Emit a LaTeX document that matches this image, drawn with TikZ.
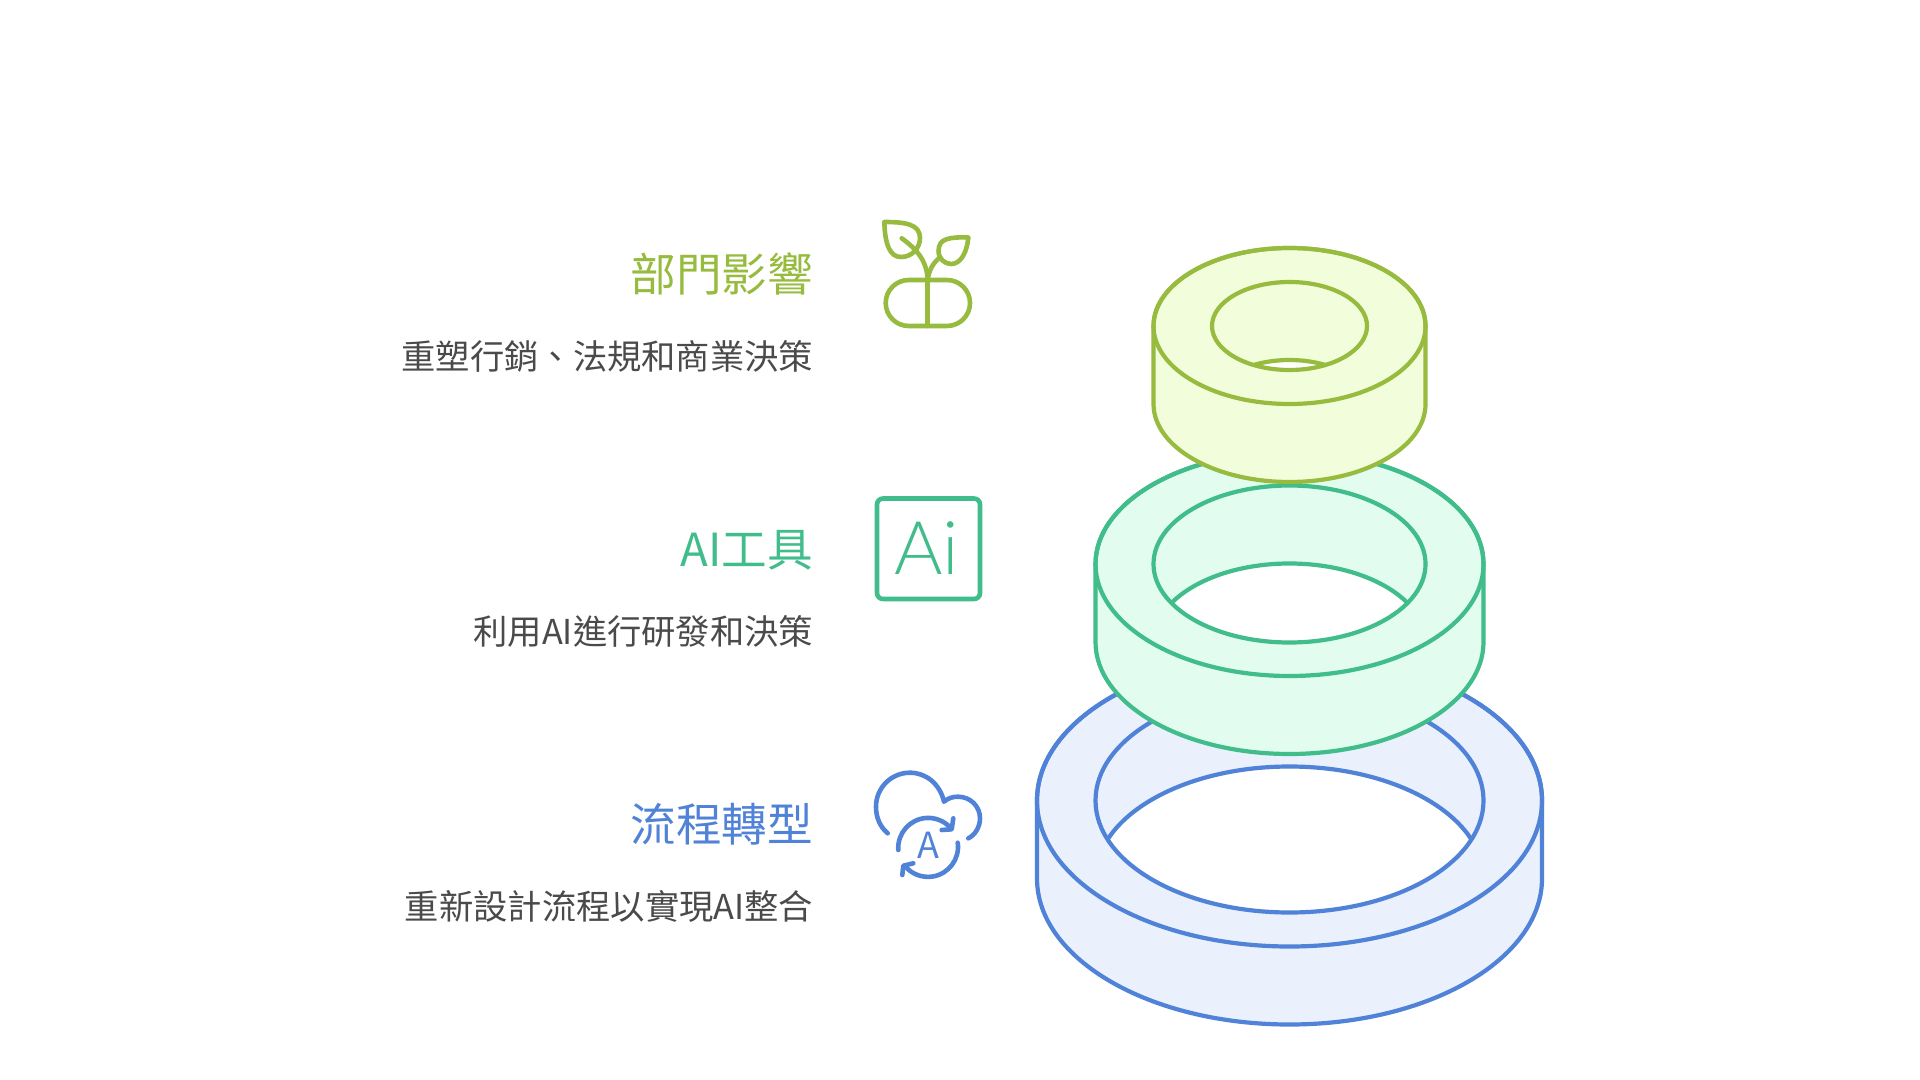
\documentclass[tikz,border=0pt]{standalone}
\usepackage{fontspec}
\setmainfont{Noto Sans CJK TC}
\newfontfamily\thinmark{Lato Light}
\definecolor{limeline}{HTML}{97BB3E}
\definecolor{limefill}{HTML}{F2FEDB}
\definecolor{tealline}{HTML}{41BC8B}
\definecolor{tealfill}{HTML}{E2FDF0}
\definecolor{blueline}{HTML}{5083D8}
\definecolor{bluefill}{HTML}{EAF1FD}
\definecolor{bodygray}{HTML}{4A4A4A}
\tikzset{
  ringline/.style={line width=2.1pt, line join=round},
  iconline/.style={line width=2.3pt, line cap=round, line join=round},
  headlabel/.style={anchor=east, inner sep=0pt, font=\fontsize{22.8}{26}\selectfont},
  bodylabel/.style={anchor=east, inner sep=0pt, text=bodygray, font=\fontsize{17.15}{21}\selectfont},
}

\begin{document}
\begin{tikzpicture}[x=0.5pt, y=-0.5pt]
  \useasboundingbox (0,0) rectangle (1920,1080);

  % rings, bottom one first
  \foreach \cy/\rx/\ry/\hrx/\hry/\lnc/\flc in {
      800.5/252.5/146/194/112/blueline/bluefill,
      564/194/112/136/78.5/tealline/tealfill,
      326/136/78/77.5/44/limeline/limefill} {
    \draw[ringline, draw=\lnc, fill=\flc] (1289.5-\rx, \cy)
      arc[start angle=180, end angle=360, x radius=\rx, y radius=\ry] -- ++(0,78)
      arc[start angle=0, end angle=180, x radius=\rx, y radius=\ry] -- cycle;
    \draw[ringline, draw=\lnc] (1289.5, \cy) ellipse[x radius=\rx, y radius=\ry];
    \begin{scope}
      \clip (1289.5, \cy) ellipse[x radius=\hrx, y radius=\hry];
      \draw[ringline, draw=\lnc, fill=white] (1289.5, \cy+78) ellipse[x radius=\hrx, y radius=\hry];
    \end{scope}
    \draw[ringline, draw=\lnc] (1289.5, \cy) ellipse[x radius=\hrx, y radius=\hry];
  }

  % labels
  \node[headlabel, text=limeline] (dept) at (813.5,274) {部門影響};
  \node[bodylabel] (deptnote) at (813.5,356) {重塑行銷、法規和商業決策};
  \node[headlabel, text=tealline] (tools) at (813.5,550) {AI工具};
  \node[bodylabel] (toolsnote) at (813.5,631) {利用AI進行研發和決策};
  \node[headlabel, text=blueline] (flow) at (813.5,824) {流程轉型};
  \node[bodylabel] (flownote) at (813.5,906) {重新設計流程以實現AI整合};

  % plant icon
  \draw[iconline, draw=limeline] (884.3,222)
    .. controls (905,222) and (920,224) .. (920,238)
    .. controls (920,248) and (912,257) .. (901,257)
    .. controls (890,257) and (885,245) .. (884.3,222) -- cycle;
  \draw[iconline, draw=limeline] (968.3,237.5)
    .. controls (950,237) and (938.5,238) .. (938.5,251)
    .. controls (938.5,259) and (945,264) .. (951,264)
    .. controls (961,264) and (967,252) .. (968.3,237.5) -- cycle;
  \draw[iconline, draw=limeline] (901.7,238.3) .. controls (918,250) and (927,262) .. (927.7,280);
  \draw[iconline, draw=limeline] (940,257.3) .. controls (933,263) and (929,270) .. (927.7,280);
  \draw[iconline, draw=limeline, rounded corners=11.5pt] (885.7,280) rectangle (970,326);
  \draw[iconline, draw=limeline] (927.7,280) -- (927.7,326);

  % Ai icon
  \draw[line width=2.3pt, draw=tealline, rounded corners=3pt] (877,498.5) rectangle (980,599);
  \node[inner sep=0pt, text=tealline, font=\thinmark\fontsize{37}{41}\selectfont] (aimark) at (927,548) {Ai};

  % cloud icon
  \draw[iconline, draw=blueline] (887.7,833.3)
    .. controls (879,826) and (876,816) .. (876,806.7)
    .. controls (876,788) and (891,772.7) .. (910,772.7)
    .. controls (926,772.7) and (940,784) .. (944,801.7)
    .. controls (948,798) and (953,796.7) .. (958,796.7)
    .. controls (970,796.7) and (980,806) .. (980,818.3)
    .. controls (980,827) and (975,835) .. (968.3,838.3);
  \draw[iconline, draw=blueline] (898.3,850) arc[start angle=176, end angle=318, radius=30];
  \draw[iconline, draw=blueline] (953.3,818.3) -- (951.7,829.3) -- (941.7,830);
  \draw[iconline, draw=blueline] (957.7,842.7) arc[start angle=-8, end angle=140, radius=30];
  \draw[iconline, draw=blueline] (913.3,863.3) -- (903.3,865.7) -- (902.3,875);
  \node[inner sep=0pt, text=blueline, font=\fontsize{18}{20}\selectfont] (aletter) at (928.5,845) {A};
\end{tikzpicture}
\end{document}
